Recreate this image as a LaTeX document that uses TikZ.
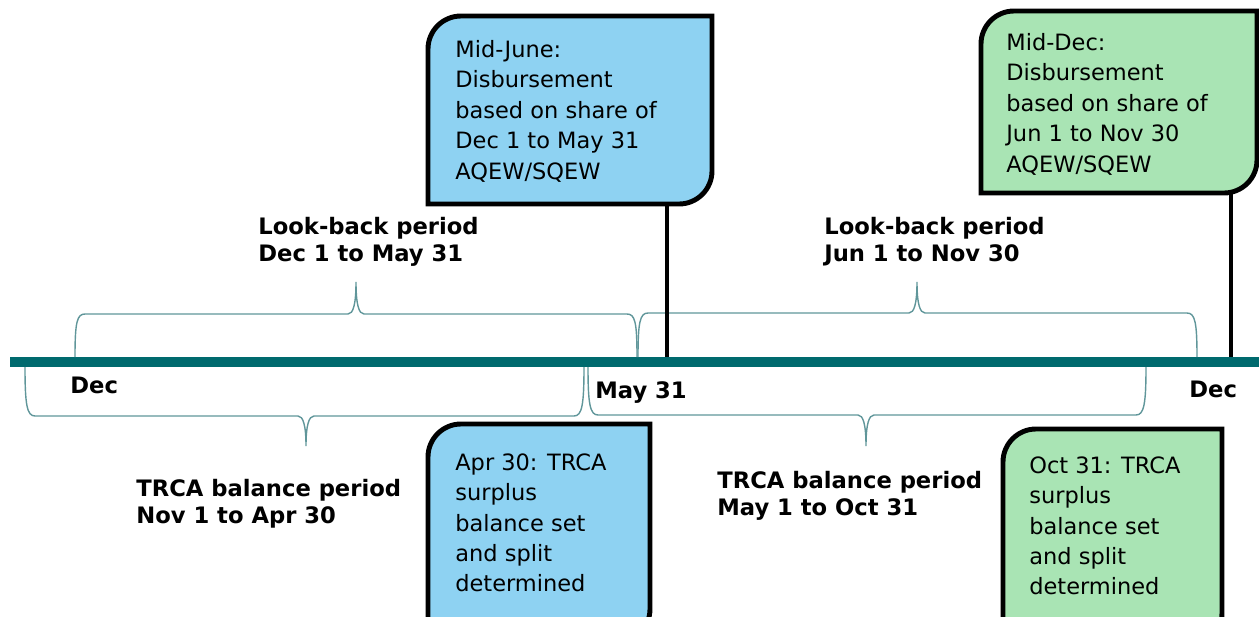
\documentclass[tikz,border=0pt]{standalone}
\usepackage{fontspec}
\setmainfont{DejaVu Sans}
\usetikzlibrary{fit,backgrounds}
\definecolor{boxblue}{RGB}{142,210,242}
\definecolor{boxgreen}{RGB}{169,228,180}
\definecolor{barteal}{RGB}{0,106,110}
\definecolor{bracecol}{RGB}{96,150,154}
\newcommand\calloutbox[3]{%
  \draw[boxline,fill=#2] (#1.south west) -- ([yshift=-#3]#1.north west)
    arc[start angle=180,end angle=90,radius=#3] -- (#1.north east)
    -- ([yshift=#3]#1.south east) arc[start angle=0,end angle=-90,radius=#3] -- cycle;}
\begin{document}
\begin{tikzpicture}[x=0.02cm,y=-0.02cm,
  boxline/.style={draw=black,line width=2.8pt,line join=miter},
  boxtext/.style={anchor=north west,inner sep=0pt,align=left,font=\fontsize{12.8}{17.35}\selectfont},
  lbl/.style={anchor=north west,inner sep=0pt,align=left,font=\fontsize{12.9}{15.4}\selectfont\bfseries},
  tick/.style={anchor=base west,inner sep=0pt,font=\fontsize{12.9}{15.4}\selectfont\bfseries},
  bar/.style={draw=barteal,line width=5.9pt},
  stem/.style={draw=black,line width=2.8pt},
  bracket/.style={draw=bracecol,line width=0.8pt},
  region/.style={inner sep=0pt,outer sep=0pt}]
\useasboundingbox (0,0) rectangle (1259,616);

% timeline
\coordinate (barL) at (10,362);
\coordinate (barR) at (1262,362);
\draw[bar] (barL) -- (barR);

% braces above (look-back periods)
\draw[bracket] (75,357) .. controls (75,322) and (77,314) .. (85,314) -- (348,314)
  .. controls (353,314) and (356,305) .. (356,282)
  .. controls (356,305) and (359,314) .. (364,314) -- (627,314)
  .. controls (635,314) and (637,322) .. (637,357);
\draw[bracket] (638,357) .. controls (638,322) and (640,313) .. (648,313) -- (909,313)
  .. controls (914,313) and (917,304) .. (917,282)
  .. controls (917,304) and (920,313) .. (925,313) -- (1187,313)
  .. controls (1195,313) and (1197,322) .. (1197,357);
% braces below (TRCA balance periods)
\draw[bracket] (25,367) .. controls (25,405) and (27,416) .. (35,416) -- (298,416)
  .. controls (303,416) and (306,425) .. (306,446)
  .. controls (306,425) and (309,416) .. (314,416) -- (574,416)
  .. controls (582,416) and (584,405) .. (584,367);
\draw[bracket] (588,367) .. controls (588,404) and (590,415) .. (598,415) -- (858,415)
  .. controls (863,415) and (866,424) .. (866,446)
  .. controls (866,424) and (869,415) .. (874,415) -- (1136,415)
  .. controls (1144,415) and (1146,404) .. (1146,367);

% callout regions
\node[region,fit={(428,16) (712,204)}] (b1) {};
\node[region,fit={(981,11) (1257,193)}] (b2) {};
\node[region,fit={(428,424) (650,642)}] (b3) {};
\node[region,fit={(1003,429) (1222,646)}] (b4) {};

% stems
\coordinate (s1) at (667,357);
\coordinate (s2) at (1231,357);
\draw[stem] (s1 |- b1.south) -- (s1);
\draw[stem] (s2 |- b2.south) -- (s2);

% callout boxes
\calloutbox{b1}{boxblue}{0.66cm}
\calloutbox{b2}{boxgreen}{0.66cm}
\calloutbox{b3}{boxblue}{0.66cm}
\calloutbox{b4}{boxgreen}{0.66cm}

\node[boxtext] (t1) at (455,40) {Mid-June:\\Disbursement\\based on share of\\Dec 1 to May 31\\AQEW/SQEW};
\node[boxtext] (t2) at (1006,33) {Mid-Dec:\\Disbursement\\based on share of\\Jun 1 to Nov 30\\AQEW/SQEW};
\node[boxtext] (t3) at (455,453) {Apr 30: TRCA\\surplus\\balance set\\and split\\determined};
\node[boxtext] (t4) at (1029,456) {Oct 31: TRCA\\surplus\\balance set\\and split\\determined};

% period labels
\node[lbl] (l1) at (258,217) {Look-back period\\Dec 1 to May 31};
\node[lbl] (l2) at (824,217) {Look-back period\\Jun 1 to Nov 30};
\node[lbl] (l3) at (136,479) {TRCA balance period\\Nov 1 to Apr 30};
\node[lbl] (l4) at (717,471) {TRCA balance period\\May 1 to Oct 31};

% timeline ticks
\node[tick] (d1) at (70,393) {Dec};
\node[tick] (m1) at (595,398) {May 31};
\node[tick] (d2) at (1189,397) {Dec};
\end{tikzpicture}
\end{document}
